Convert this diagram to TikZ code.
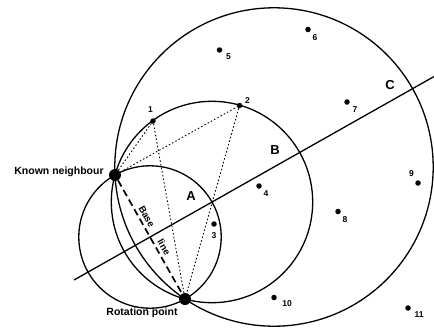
\documentclass[tikz,border=0pt]{standalone}
\usepackage{fontspec}
\setsansfont{Liberation Sans}
\usetikzlibrary{positioning, calc}

\begin{document}
\begin{tikzpicture}[
    x=1pt, y=-1pt,
    font=\sffamily\bfseries,
    circ/.style={line width=1.3pt},
    guide/.style={line width=0.9pt, dash pattern=on 1.5pt off 2.2pt},
    baseline/.style={line width=1.7pt, dash pattern=on 7pt off 4pt},
    dot/.style={circle, fill=black, inner sep=0pt, minimum size=5.5pt},
    bigdot/.style={circle, fill=black, inner sep=0pt, minimum size=12pt},
    num/.style={font=\sffamily\bfseries\fontsize{8.5}{9}\selectfont, inner sep=0pt},
    tag/.style={font=\sffamily\bfseries\fontsize{13}{14}\selectfont, inner sep=0pt},
    lbl/.style={font=\sffamily\bfseries\fontsize{10.5}{12}\selectfont, inner sep=0pt},
    bl/.style={font=\sffamily\bfseries\fontsize{9.5}{10}\selectfont, inner sep=0pt, sloped, above=3pt}
]
\useasboundingbox (2,0) rectangle (436,327);

% the two fixed points
\node[bigdot] (known) at (117,175) {};
\node[bigdot] (rot) at (187,299) {};

% circle centres on the perpendicular bisector
\coordinate (cA) at (152,237);
\coordinate (cB) at (214,202);
\coordinate (cC) at (276,167);

\draw[circ] (cA) circle[radius=71.2pt];
\draw[circ] (cB) circle[radius=100.7pt];
\draw[circ] (cC) circle[radius=159.2pt];

% perpendicular bisector
\coordinate (bisA) at (76,280);
\coordinate (bisB) at (437,76);
\draw[circ] (bisA) -- (bisB);

% neighbours
\node[dot] (p1) at (155,121) {};
\node[dot] (p2) at (241.5,105.5) {};
\node[dot] (p3) at (216,224) {};
\node[dot] (p4) at (261,186) {};
\node[dot] (p5) at (221.5,50) {};
\node[dot] (p6) at (310,29.5) {};
\node[dot] (p7) at (349,102) {};
\node[dot] (p8) at (340,211.5) {};
\node[dot] (p9) at (420,183) {};
\node[dot] (p10) at (276,297.5) {};
\node[dot] (p11) at (410,308) {};

\node[num] (l1) at (152.5,110) {1};
\node[num] (l2) at (249.5,100.5) {2};
\node[num] (l3) at (216,235.5) {3};
\node[num] (l4) at (268,194) {4};
\node[num] (l5) at (230.5,56.5) {5};
\node[num] (l6) at (317,37.5) {6};
\node[num] (l7) at (357,109.5) {7};
\node[num] (l8) at (347,219.5) {8};
\node[num] (l9) at (413.5,174) {9};
\node[num] (l10) at (289,303.5) {10};
\node[num] (l11) at (421,315) {11};

\node[tag] (tA) at (193,196) {A};
\node[tag] (tB) at (277,150) {B};
\node[tag] (tC) at (392,85) {C};

% construction lines
\draw[guide] (known) -- (p1);
\draw[guide] (known) -- (p2);
\draw[guide] (p1) -- (rot);
\draw[guide] (p2) -- (rot);

\draw[baseline] (known) -- (rot)
    node[bl, pos=0.35] (tbase) {Base}
    node[bl, pos=0.62] (tline) {line};

\node[lbl, left=5pt of known, yshift=3pt] (tknown) {Known neighbour};
\node[lbl] (trot) at (144,312.5) {Rotation point};

\end{tikzpicture}
\end{document}
